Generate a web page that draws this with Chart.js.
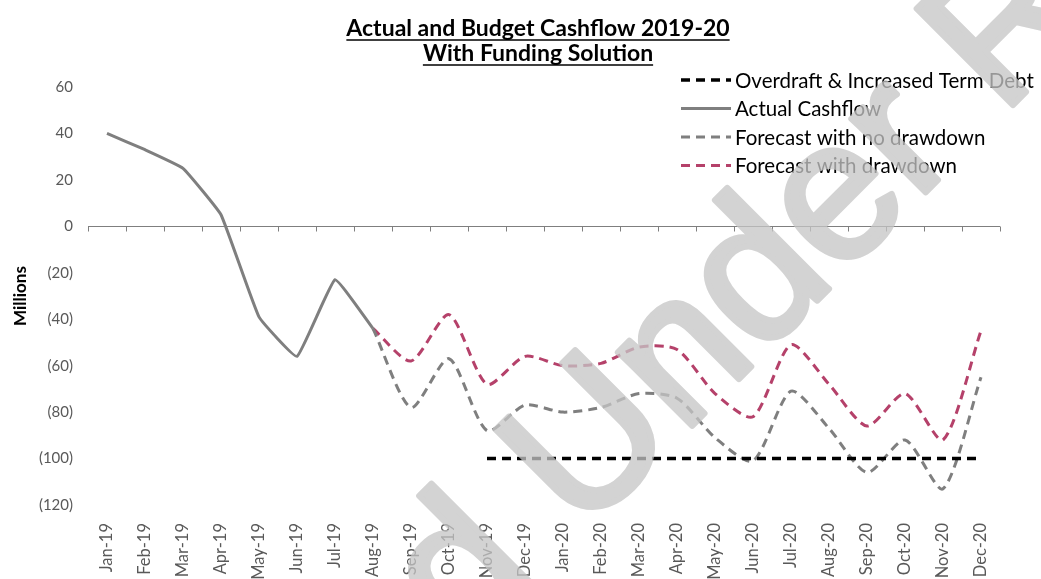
<!DOCTYPE html>
<html>
<head>
<meta charset="utf-8">
<title>Actual and Budget Cashflow 2019-20</title>
<script src="https://cdn.jsdelivr.net/npm/chart.js@4/dist/chart.umd.min.js"></script>
<style>
  html, body { margin: 0; padding: 0; background: #fff; }
  #wrap { width: 1041px; height: 579px; position: relative; }
</style>
</head>
<body>
<div id="wrap"><canvas id="cashflow"></canvas></div>
<script>
// months along the bottom
const months = [
  'Jan-19', 'Feb-19', 'Mar-19', 'Apr-19', 'May-19', 'Jun-19',
  'Jul-19', 'Aug-19', 'Sep-19', 'Oct-19', 'Nov-19', 'Dec-19',
  'Jan-20', 'Feb-20', 'Mar-20', 'Apr-20', 'May-20', 'Jun-20',
  'Jul-20', 'Aug-20', 'Sep-20', 'Oct-20', 'Nov-20', 'Dec-20'
];

// cash position, $ millions
const actualCashflow = [40, 33, 25, 5, -39, -56, -23, -44,
  null, null, null, null, null, null, null, null, null, null, null, null, null, null, null, null];

const forecastNoDrawdown = [null, null, null, null, null, null, null, -44,
  -78, -57, -88, -77, -80, -78, -72, -74, -91, -101, -71, -87, -106, -92, -113, -65];

const forecastDrawdown = [null, null, null, null, null, null, null, -44,
  -58, -38, -68, -56, -60, -59, -52, -53, -72, -82, -51, -68, -86, -72, -92, -45];

const overdraftLimit = [null, null, null, null, null, null, null, null, null, null,
  -100, -100, -100, -100, -100, -100, -100, -100, -100, -100, -100, -100, -100, -100];

// y axis ticks
const yTickValues = [60, 40, 20, 0, -20, -40, -60, -80, -100, -120];

const FONT = 'Lato, "Open Sans", sans-serif';

// zero line with tick marks between the months (axis crosses at 0)
const zeroAxis = {
  id: 'zeroAxis',
  beforeDatasetsDraw(chart) {
    const { ctx, chartArea, scales } = chart;
    const x = scales.x, y = scales.y;
    const y0 = Math.round(y.getPixelForValue(0)) + 0.5;
    const step = x.getPixelForValue(1) - x.getPixelForValue(0);
    ctx.save();
    ctx.strokeStyle = '#7f7f7f';
    ctx.lineWidth = 1;
    ctx.beginPath();
    ctx.moveTo(chartArea.left, y0);
    ctx.lineTo(chartArea.right, y0);
    for (let i = 0; i <= months.length; i++) {
      const tx = Math.round(x.getPixelForValue(0) - step / 2 + i * step) + 0.5;
      ctx.moveTo(tx, y0);
      ctx.lineTo(tx, y0 + 5);
    }
    ctx.stroke();
    ctx.restore();
  }
};

// bold underlined two-line heading
const underlinedTitle = {
  id: 'underlinedTitle',
  afterDraw(chart) {
    const { ctx } = chart;
    const lines = ['Actual and Budget Cashflow 2019-20', 'With Funding Solution'];
    const cx = 538;
    ctx.save();
    ctx.font = 'bold 23px ' + FONT;
    ctx.fillStyle = '#000';
    ctx.strokeStyle = '#000';
    ctx.lineWidth = 1.6;
    ctx.textAlign = 'center';
    ctx.textBaseline = 'alphabetic';
    lines.forEach((t, i) => {
      const by = 36 + i * 25;
      ctx.fillText(t, cx, by);
      const w = ctx.measureText(t).width;
      ctx.beginPath();
      ctx.moveTo(cx - w / 2, by + 4);
      ctx.lineTo(cx + w / 2, by + 4);
      ctx.stroke();
    });
    ctx.restore();
  }
};

// legend stacked in the top right corner
const cornerLegend = {
  id: 'cornerLegend',
  afterDraw(chart) {
    const { ctx } = chart;
    ctx.save();
    ctx.font = '20.5px ' + FONT;
    ctx.textBaseline = 'middle';
    ctx.fillStyle = '#000';
    chart.data.datasets.forEach((ds, i) => {
      const cy = 80 + i * 28.5;
      ctx.strokeStyle = ds.borderColor;
      ctx.lineWidth = ds.borderWidth;
      ctx.setLineDash(ds.borderDash || []);
      ctx.beginPath();
      ctx.moveTo(681, cy);
      ctx.lineTo(731, cy);
      ctx.stroke();
      ctx.setLineDash([]);
      ctx.fillText(ds.label, 735, cy + 1);
    });
    ctx.restore();
  }
};

// "Released Under RTI" stamp across the page; built opaque on a
// scratch canvas first so the outlined glyphs are not shaded twice
const watermark = {
  id: 'watermark',
  afterDraw(chart) {
    const { ctx, width, height } = chart;
    const scratch = document.createElement('canvas');
    scratch.width = width;
    scratch.height = height;
    const s = scratch.getContext('2d');
    s.font = '198px "Liberation Sans", Arial, sans-serif';
    s.fillStyle = 'rgb(197, 197, 197)';
    s.strokeStyle = 'rgb(197, 197, 197)';
    s.lineWidth = 6;
    s.lineJoin = 'round';
    s.translate(772, 346);
    s.rotate(-Math.PI / 4);
    const before = s.measureText('Released ').width;
    const word = s.measureText('Under').width;
    const x0 = -(before + word / 2);
    s.fillText('Released Under RTI', x0, 0);
    s.strokeText('Released Under RTI', x0, 0);

    ctx.save();
    ctx.globalAlpha = 0.76;
    ctx.drawImage(scratch, 0, 0, width, height);
    ctx.restore();
  }
};

const dashed = [9, 6];

new Chart(document.getElementById('cashflow'), {
  type: 'line',
  data: {
    labels: months,
    datasets: [
      {
        label: 'Overdraft & Increased Term Debt',
        data: overdraftLimit,
        borderColor: '#000000',
        borderWidth: 3.5,
        borderDash: dashed,
        pointRadius: 0,
        tension: 0
      },
      {
        label: 'Actual Cashflow',
        data: actualCashflow,
        borderColor: '#7f7f7f',
        borderWidth: 3,
        pointRadius: 0,
        tension: 0.1
      },
      {
        label: 'Forecast with no drawdown',
        data: forecastNoDrawdown,
        borderColor: '#7f7f7f',
        borderWidth: 3,
        borderDash: dashed,
        pointRadius: 0,
        tension: 0.25
      },
      {
        label: 'Forecast with drawdown',
        data: forecastDrawdown,
        borderColor: '#b5416a',
        borderWidth: 3,
        borderDash: dashed,
        pointRadius: 0,
        tension: 0.25
      }
    ]
  },
  options: {
    responsive: true,
    maintainAspectRatio: false,
    animation: false,
    layout: { padding: { top: 87, left: 0, right: 41, bottom: 0 } },
    plugins: {
      legend: { display: false },
      title: { display: false },
      tooltip: { enabled: false }
    },
    scales: {
      x: {
        offset: true,
        grid: { display: false },
        border: { display: false },
        afterFit: axis => { axis.height = 74; },
        ticks: {
          color: '#595959',
          font: { family: FONT, size: 16.5 },
          minRotation: 90,
          maxRotation: 90,
          autoSkip: false,
          padding: 10
        }
      },
      y: {
        min: -120,
        max: 60,
        grid: { display: false, drawTicks: false },
        border: { display: false },
        afterFit: axis => { axis.width = 88; },
        afterBuildTicks: axis => { axis.ticks = yTickValues.map(v => ({ value: v })); },
        ticks: {
          color: '#595959',
          font: { family: FONT, size: 15 },
          padding: 15,
          callback: v => v < 0 ? '(' + Math.abs(v) + ')' : String(v)
        },
        title: {
          display: true,
          text: 'Millions',
          color: '#000',
          font: { family: FONT, size: 17, weight: 'bold' },
          padding: { top: 10, bottom: 0 }
        }
      }
    }
  },
  plugins: [zeroAxis, underlinedTitle, cornerLegend, watermark]
});
</script>
</body>
</html>
